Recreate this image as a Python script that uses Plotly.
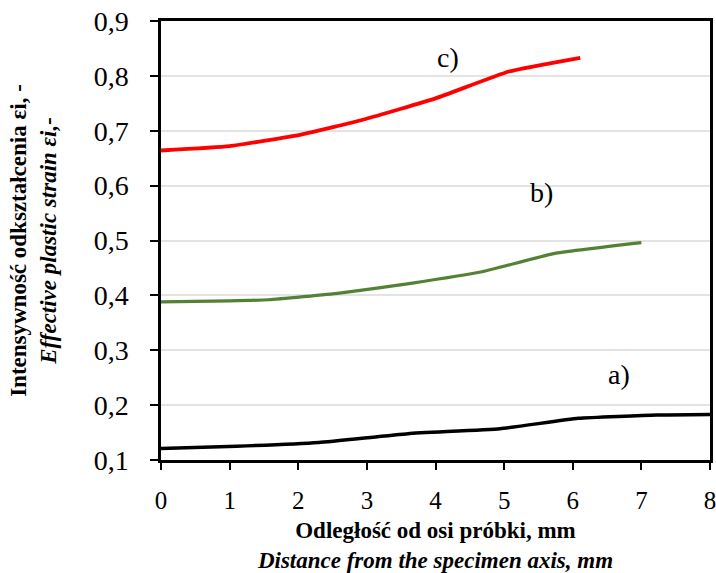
import plotly.graph_objects as go

# Data
x_a = [0, 1.1, 2.3, 3.6, 4.94, 6.08, 7.23, 8.0]
y_a = [0.121, 0.125, 0.132, 0.148, 0.157, 0.176, 0.182, 0.183]

x_b = [0, 1.0, 1.57, 2.6, 3.64, 4.68, 5.72, 7.0]
y_b = [0.388, 0.390, 0.392, 0.404, 0.422, 0.443, 0.476, 0.496]

x_c = [0, 1.0, 2.04, 2.97, 4.0, 5.07, 6.11]
y_c = [0.664, 0.672, 0.693, 0.721, 0.759, 0.808, 0.833]

labels = ["a)", "b)", "c)"]
label_x = [6.68, 5.55, 4.18]
label_y = [0.255, 0.587, 0.833]

x_ticks = [0, 1, 2, 3, 4, 5, 6, 7, 8]
y_ticks = [0.1, 0.2, 0.3, 0.4, 0.5, 0.6, 0.7, 0.8, 0.9]
y_ticktext = ["0,1", "0,2", "0,3", "0,4", "0,5", "0,6", "0,7", "0,8", "0,9"]

FONT = "Liberation Serif"

fig = go.Figure()
fig.add_trace(go.Scatter(x=x_a, y=y_a, mode="lines", line=dict(color="#000000", width=3.5, shape="spline", smoothing=0.4), showlegend=False))
fig.add_trace(go.Scatter(x=x_b, y=y_b, mode="lines", line=dict(color="#548235", width=3.2, shape="spline", smoothing=0.4), showlegend=False))
fig.add_trace(go.Scatter(x=x_c, y=y_c, mode="lines", line=dict(color="#ff0000", width=3.8, shape="spline", smoothing=0.4), showlegend=False))

for t, lx, ly in zip(labels, label_x, label_y):
    fig.add_annotation(x=lx, y=ly, text=t, showarrow=False, font=dict(family=FONT, size=28, color="black"))

fig.update_layout(
    width=716, height=573,
    margin=dict(l=161, r=6, t=21, b=113),
    paper_bgcolor="white", plot_bgcolor="white",
    font=dict(family=FONT, color="black"),
    xaxis=dict(
        range=[0, 8], tickvals=x_ticks, ticktext=[str(v) for v in x_ticks],
        tickfont=dict(size=25, family=FONT), ticks="outside", ticklen=7, tickwidth=1.5, tickcolor="black",
        showline=True, linecolor="black", linewidth=2.5, mirror=True, automargin=False,
        ticklabeloverflow="allow",
        showgrid=False, zeroline=False, ticklabelstandoff=9,
        title=dict(text="<b>Odległość od osi próbki, mm</b><br><b><i>Distance from the specimen axis, mm</i></b>",
                   font=dict(size=23, family=FONT), standoff=10),
    ),
    yaxis=dict(
        range=[0.1, 0.9], tickvals=y_ticks, ticktext=y_ticktext,
        tickfont=dict(size=28, family=FONT), ticks="outside", ticklen=8, tickwidth=1.5, tickcolor="black",
        showline=True, linecolor="black", linewidth=2.5, mirror=True, automargin=False,
        ticklabeloverflow="allow",
        showgrid=True, gridcolor="#e3e3e3", gridwidth=1.5, zeroline=False, ticklabelstandoff=16,
        title=dict(text="<b>Intensywność odkształcenia εi, -</b><br><b><i>Effective plastic strain εi,-</i></b>",
                   font=dict(size=23, family=FONT), standoff=31),
    ),
)

fig.write_html("out.html")
